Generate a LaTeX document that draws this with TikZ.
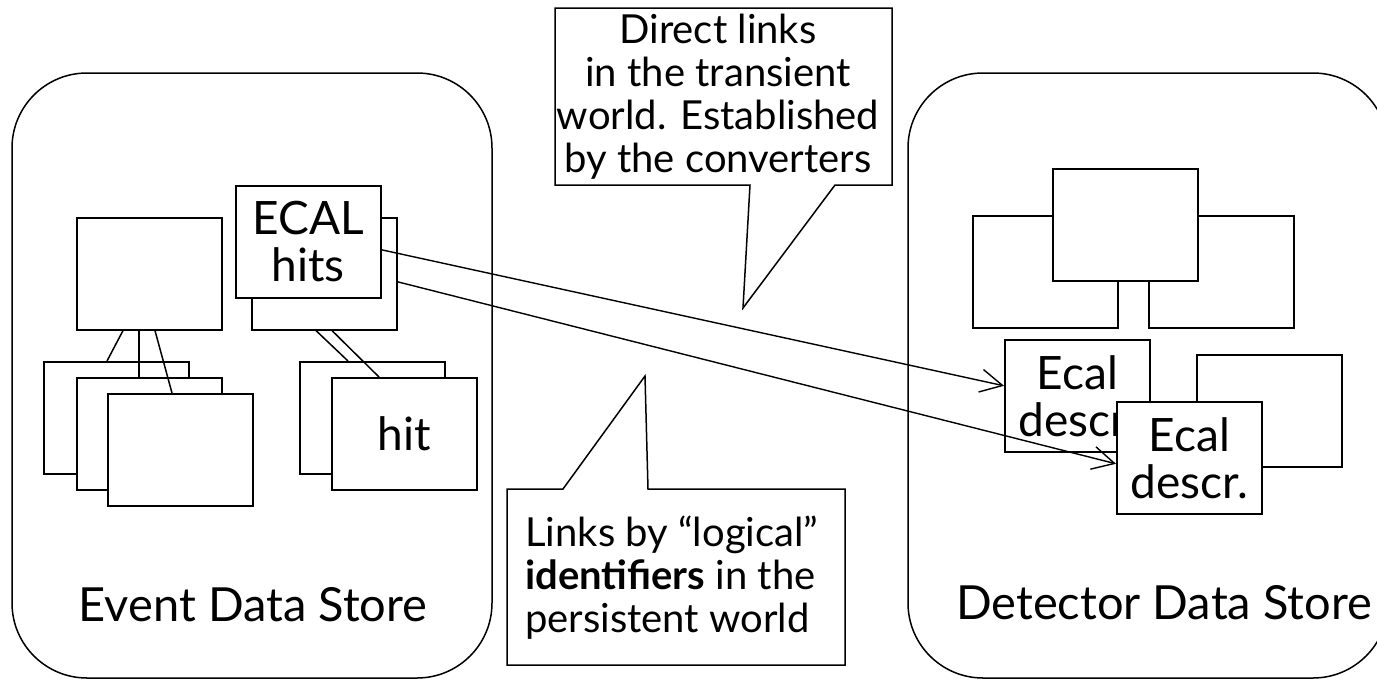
\documentclass[tikz,border=0pt]{standalone}
\usepackage{fontspec}
\setmainfont{Lato}
\usetikzlibrary{arrows.meta}
\begin{document}
\begin{tikzpicture}[x=1pt,y=-1pt,
  store/.style={draw, line width=1.5pt, rounded corners=75pt},
  obj/.style={draw, fill=white, line width=1.6pt, anchor=north west,
    minimum width=145pt, minimum height=112pt, inner sep=0pt,
    align=center, font=\fontsize{46}{47}\selectfont},
  link/.style={line width=1.5pt},
  ref/.style={line width=1.4pt, -{Straight Barb[length=22pt,width=23pt]}},
  callout/.style={draw, fill=white, line width=1.5pt, line join=miter},
  note/.style={inner sep=0pt, font=\fontsize{40}{43}\selectfont},
  lbl/.style={inner sep=0pt, font=\fontsize{47}{50}\selectfont}]
\useasboundingbox (0,0) rectangle (1377,680);
\clip (0,0) rectangle (1377,680);

% the two data stores
\draw[store] (12,73) rectangle (492,678);
\draw[store] (908,73) rectangle (1388,678);
\node[lbl] (evlbl) at (253,605) {Event Data Store};
\node[lbl] (detlbl) at (1164,603) {Detector Data Store};

% event store objects
\node[obj] (evA) at (76,217) {};
\node[obj] (ecalBack) at (251,217) {};
\node[obj] (ecal) at (235,185) {ECAL\\hits};
\node[obj] (s1) at (43,361) {};
\node[obj] (s2) at (76,377) {};
\node[obj] (s3) at (107,393) {};
\node[obj] (hitBack) at (299,361) {};
\node[obj] (hit) at (331,377) {hit};

\draw[link] ([xshift=47pt]evA.south west) -- ([xshift=64pt]s1.north west);
\draw[link] ([xshift=63pt]evA.south west) -- ([xshift=63pt]s2.north west);
\draw[link] ([xshift=79pt]evA.south west) -- ([xshift=65pt]s3.north west);
\draw[link] ([xshift=65pt]ecalBack.south west) -- ([xshift=49pt]hitBack.north west);
\draw[link] ([xshift=81pt]ecalBack.south west) -- ([xshift=48pt]hit.north west);

% detector store objects
\node[obj] (rLeft) at (972,215) {};
\node[obj] (rRight) at (1148,215) {};
\node[obj] (rTop) at (1052,168) {};
\node[obj] (d1) at (1004,339) {Ecal\\descr.};
\node[obj] (rLow) at (1196,354) {};
\node[obj] (d2) at (1116,401) {Ecal\\descr.};

% transient links
\draw[ref] ([yshift=-8pt]ecal.east) -- ([yshift=10pt]d1.west);
\draw[ref] ([yshift=-8pt]ecalBack.east) -- ([yshift=-6pt]d2.west);

% callouts
\draw[callout] (555,8) -- (892,8) -- (892,185) -- (835,185) -- (743,308)
  -- (750,185) -- (555,185) -- cycle;
\node[note, align=center] (direct) at (718,97)
  {Direct links\\in the transient\\world. Established\\by the converters};

\draw[callout] (507,489) -- (563,489) -- (645,376) -- (648,489) -- (845,489)
  -- (845,665) -- (507,665) -- cycle;
\node[note, align=left, anchor=west] (logical) at (525,578)
  {Links by “logical”\\\textbf{identifiers} in the\\persistent world};
\end{tikzpicture}
\end{document}
